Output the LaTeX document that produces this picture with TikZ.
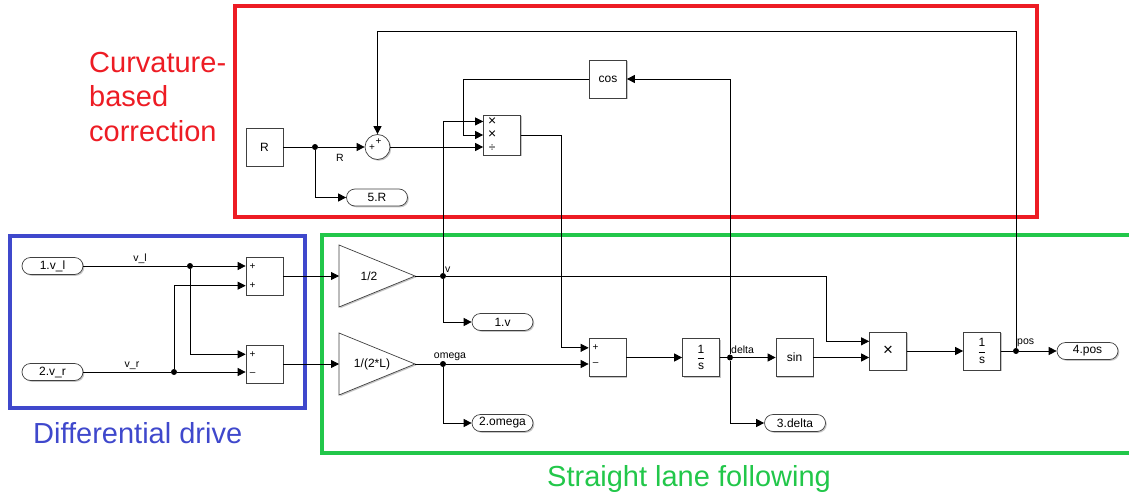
\documentclass[tikz,border=0pt]{standalone}
\usepackage{fontspec}
\setmainfont{Liberation Sans}
\usetikzlibrary{arrows.meta,shapes.misc,shadows,calc}
\definecolor{curvc}{HTML}{ED1C24}
\definecolor{diffc}{HTML}{3F48CC}
\definecolor{lanec}{HTML}{22C74A}
\newcommand{\oneovers}{$\displaystyle{\hbox{1}\over\hbox{s}}$}

\begin{document}
\begin{tikzpicture}[x=1pt,y=-1pt,
  blk/.style={draw=black!75, fill=white, line width=0.7pt, minimum width=37pt, minimum height=38pt,
    inner sep=0pt, font=\fontsize{12}{14}\selectfont,
    drop shadow={shadow xshift=1.3pt, shadow yshift=-1.3pt, opacity=0.45}},
  port/.style={blk, rounded rectangle, minimum width=61pt, minimum height=17pt},
  sumc/.style={blk, circle, minimum size=25pt},
  gainshape/.style={draw=black!75, fill=white, line width=0.7pt,
    drop shadow={shadow xshift=1.3pt, shadow yshift=-1.3pt, opacity=0.45}},
  sig/.style={line width=0.8pt, -{Triangle[length=8pt,width=8pt]}},
  wire/.style={line width=0.8pt},
  jdot/.style={circle, fill, inner sep=0pt, minimum size=6pt},
  slabel/.style={font=\fontsize{10.5}{12}\selectfont, inner sep=1pt},
  sign/.style={font=\fontsize{10}{11}\selectfont, inner sep=0pt},
  mulsign/.style={font=\fontsize{14}{14}\selectfont, inner sep=0pt},
  grouplabel/.style={font=\fontsize{29}{34.5}\selectfont, inner sep=0pt, align=left}]
  \useasboundingbox (0,0) rectangle (1129,492);

  % group frames
  \draw[curvc, line width=3.5pt] (235,6) rectangle (1037,217);
  \draw[diffc, line width=3.5pt] (10,236) rectangle (305,408);
  \draw[lanec, line width=3.5pt] (1129,235) -- (322,235) -- (322,453) -- (1129,453);
  \node[grouplabel, curvc, anchor=north west] (lblcurv) at (89,52) {Curvature-\\based\\correction};
  \node[grouplabel, diffc, anchor=base west] (lbldiff) at (33,443) {Differential drive};
  \node[grouplabel, lanec, anchor=base west] (lbllane) at (547,486) {Straight lane following};

  % differential drive
  \node[port] (vl) at (52.5,266) {1.v\_l};
  \node[port] (vr) at (52.5,372) {2.v\_r};
  \node[blk] (suma) at (264.5,276) {};
  \node[blk] (sumb) at (264.5,364) {};
  \node[jdot] (jvl) at (190,266) {};
  \node[jdot] (jvr) at (174,372) {};
  \node[sign] at ($(suma.north west)!0.25!(suma.south west)+(7,0)$) {+};
  \node[sign] at ($(suma.north west)!0.75!(suma.south west)+(7,0)$) {+};
  \node[sign] at ($(sumb.north west)!0.25!(sumb.south west)+(7,0)$) {+};
  \node[sign] at ($(sumb.north west)!0.75!(sumb.south west)+(7,0)$) {\textendash};
  \draw[wire] (vl.east) -- (jvl);
  \draw[sig] (jvl) -- (jvl -| suma.west);
  \draw[sig] (jvl) |- ($(sumb.north west)!0.25!(sumb.south west)$);
  \draw[wire] (vr.east) -- (jvr);
  \draw[sig] (jvr) -- (jvr -| sumb.west);
  \draw[sig] (jvr) |- ($(suma.north west)!0.75!(suma.south west)$);
  \node[slabel, anchor=south] at (140,265) {v\_l};
  \node[slabel, anchor=south] at (132,371) {v\_r};

  % gains
  \draw[gainshape] (339,245) -- (415,276) -- (339,307) -- cycle;
  \coordinate (g1in) at (339,276);
  \coordinate (g1out) at (415,276);
  \node[font=\fontsize{12}{14}\selectfont] (g1) at (369,276) {1/2};
  \draw[gainshape] (339,333) -- (415,364) -- (339,395) -- cycle;
  \coordinate (g2in) at (339,364);
  \coordinate (g2out) at (415,364);
  \node[font=\fontsize{12}{14}\selectfont] (g2) at (372,364) {1/(2*L)};
  \draw[sig] (suma.east) -- (g1in);
  \draw[sig] (sumb.east) -- (g2in);
  \node[jdot] (jv) at (443,276) {};
  \node[jdot] (jom) at (443,364) {};
  \draw[wire] (g1out) -- (jv);
  \draw[wire] (g2out) -- (jom);
  \node[slabel, anchor=south west] at (444,274) {v};
  \node[slabel, anchor=south] at (450,362) {omega};
  \node[port] (ov) at (502.5,322) {1.v};
  \node[port] (oom) at (502.5,423) {2.omega};
  \draw[sig] (jv) |- (ov.west);
  \draw[sig] (jom) |- (oom.west);

  % curvature correction
  \node[blk] (Rblk) at (264.5,147) {R};
  \node[jdot] (jR) at (315,147) {};
  \node[sumc] (sumR) at (377.5,147) {};
  \node[sign] at (372,148) {+};
  \node[sign] at (378.5,141.5) {+};
  \node[port] (oR) at (377,197.5) {5.R};
  \node[blk, minimum height=40pt] (prod) at (502,135) {};
  \node[mulsign] at ($(prod.north west)!1/6!(prod.south west)+(9,0)$) {×};
  \node[mulsign] at ($(prod.north west)!0.5!(prod.south west)+(9,0)$) {×};
  \node[mulsign, font=\fontsize{12}{12}\selectfont] at ($(prod.north west)!5/6!(prod.south west)+(9,0)$) {÷};
  \node[blk] (cosb) at (608,79) {cos};
  \draw[wire] (Rblk.east) -- (jR);
  \draw[sig] (jR) -- (sumR.west);
  \draw[sig] (jR) |- (oR.west);
  \node[slabel] at (340,158) {R};
  \draw[sig] (sumR.east) -- (sumR.east -| prod.west);
  \draw[sig] (jv) |- ($(prod.north west)!1/6!(prod.south west)$);
  \draw[sig] (cosb.west) -- ++(-126,0) |- (prod.west);

  % straight lane following
  \node[blk] (sum2) at (607.5,357.5) {};
  \node[sign] at ($(sum2.north west)!0.25!(sum2.south west)+(7,0)$) {+};
  \node[sign] at ($(sum2.west |- jom)+(7,0)$) {\textendash};
  \node[blk] (int1) at (701,357.5) {\oneovers};
  \node[jdot] (jdel) at (730,357.5) {};
  \node[blk] (sinb) at (794.5,357.5) {sin};
  \node[blk, font=\fontsize{17}{17}\selectfont] (mult) at (888,351) {×};
  \node[blk] (int2) at (982,351) {\oneovers};
  \node[jdot] (jpos) at (1016,351) {};
  \node[port] (opos) at (1087.5,351) {4.pos};
  \node[port] (odel) at (795,423) {3.delta};
  \draw[sig] (prod.east) -- ++(41,0) |- ($(sum2.north west)!0.25!(sum2.south west)$);
  \draw[sig] (jom) -- (jom -| sum2.west);
  \draw[sig] (sum2.east) -- (int1.west);
  \draw[wire] (int1.east) -- (jdel);
  \draw[sig] (jdel) -- (sinb.west);
  \draw[sig] (jdel) |- (odel.west);
  \draw[sig] (jdel) |- (cosb.east);
  \node[slabel, anchor=south west] at (730,355) {delta};
  \draw[sig] (jv) -- ++(383,0) |- ($(mult.north west)!0.25!(mult.south west)$);
  \draw[sig] (sinb.east) -- (sinb.east -| mult.west);
  \draw[sig] (mult.east) -- (int2.west);
  \draw[wire] (int2.east) -- (jpos);
  \draw[sig] (jpos) -- (opos.west);
  \node[slabel, anchor=south west] at (1016,348) {pos};
  \draw[sig] (jpos) -- ++(0,-320) -| (sumR.north);
\end{tikzpicture}
\end{document}
